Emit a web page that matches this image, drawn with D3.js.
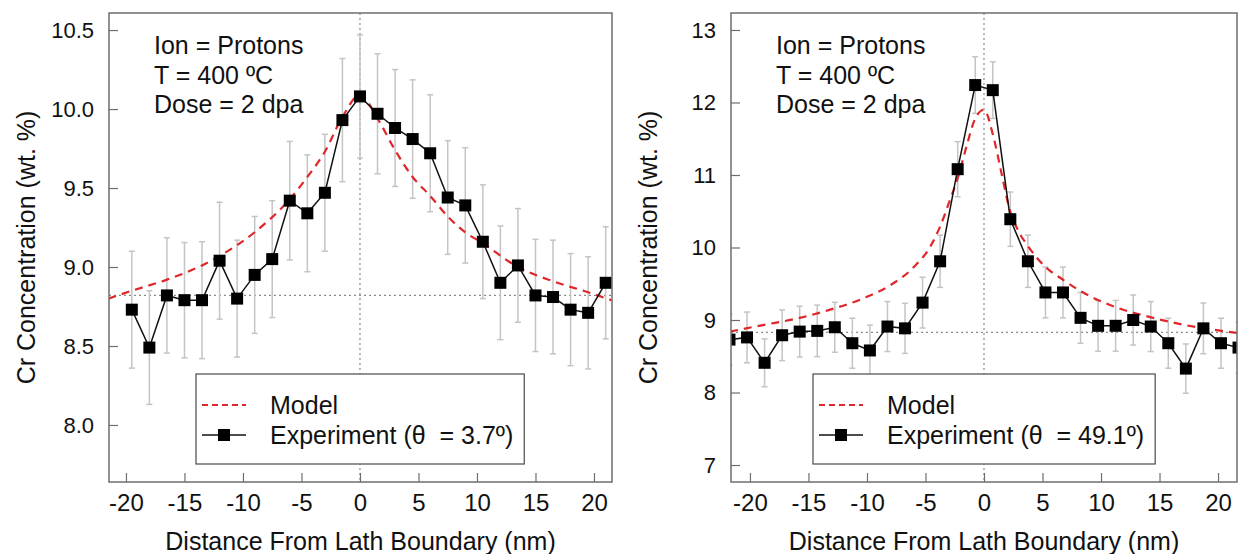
<!DOCTYPE html>
<html>
<head>
<meta charset="utf-8">
<script src="https://cdn.jsdelivr.net/npm/d3@7"></script>
<style>
  html, body { margin: 0; padding: 0; background: #fff; }
  svg { display: block; }
  text { font-family: "Liberation Sans", Arial, sans-serif; fill: #111; white-space: pre; }
</style>
</head>
<body>
<svg id="chart" width="1241" height="554"></svg>
<script>
// ---------------- DATA ----------------
const xTicks = [-20, -15, -10, -5, 0, 5, 10, 15, 20];
const leftYTicks = [8.0, 8.5, 9.0, 9.5, 10.0, 10.5];
const rightYTicks = [7, 8, 9, 10, 11, 12, 13];
const annotationLines = ["Ion = Protons", "T = 400 ºC", "Dose = 2 dpa"];
const xTitle = "Distance From Lath Boundary (nm)";
const yTitle = "Cr Concentration (wt. %)";
const modelLabel = "Model";
const leftExpLabel = "Experiment (θ  = 3.7º)";
const rightExpLabel = "Experiment (θ  = 49.1º)";

// Left panel (θ = 3.7º)
const leftX = [-19.5, -18, -16.5, -15, -13.5, -12, -10.5, -9, -7.5, -6, -4.5, -3, -1.5, 0,
               1.5, 3, 4.5, 6, 7.5, 9, 10.5, 12, 13.5, 15, 16.5, 18, 19.5, 21];
const leftY = [8.73, 8.49, 8.82, 8.79, 8.79, 9.04, 8.80, 8.95, 9.05, 9.42, 9.34, 9.47, 9.93, 10.08,
               9.97, 9.88, 9.81, 9.72, 9.44, 9.39, 9.16, 8.90, 9.01, 8.82, 8.81, 8.73, 8.71, 8.90];
const leftErr = [0.37, 0.36, 0.365, 0.365, 0.37, 0.37, 0.37, 0.37, 0.37, 0.375, 0.37, 0.37, 0.39, 0.39,
                 0.38, 0.37, 0.375, 0.37, 0.36, 0.365, 0.36, 0.36, 0.36, 0.355, 0.36, 0.355, 0.355, 0.355];
const leftModelX = [-21.5, -19.5, -16.5, -13.5, -12, -9, -6, -4.5, -3, -1.5, 0,
                    1.5, 3, 4.5, 6, 7.5, 9, 10.5, 13.5, 16.5, 19.5, 21.5];
const leftModelY = [8.80, 8.85, 8.92, 9.01, 9.07, 9.22, 9.43, 9.57, 9.73, 9.95, 10.09,
                    9.94, 9.74, 9.57, 9.45, 9.32, 9.22, 9.15, 9.00, 8.91, 8.84, 8.79];
const leftBaseline = 8.82;

// Right panel (θ = 49.1º)
const rightX = [-21.75, -20.25, -18.75, -17.25, -15.75, -14.25, -12.75, -11.25, -9.75, -8.25,
                -6.75, -5.25, -3.75, -2.25, -0.75, 0.75, 2.25, 3.75, 5.25, 6.75,
                8.25, 9.75, 11.25, 12.75, 14.25, 15.75, 17.25, 18.75, 20.25, 21.75];
const rightY = [8.73, 8.76, 8.41, 8.79, 8.84, 8.85, 8.90, 8.68, 8.58, 8.91,
                8.885, 9.24, 9.81, 11.08, 12.24, 12.17, 10.39, 9.81, 9.38, 9.38,
                9.03, 8.92, 8.92, 9.00, 8.91, 8.68, 8.33, 8.885, 8.68, 8.62];
const rightErr = [0.35, 0.35, 0.33, 0.35, 0.35, 0.355, 0.345, 0.345, 0.35, 0.345,
                  0.345, 0.35, 0.36, 0.38, 0.39, 0.39, 0.375, 0.36, 0.35, 0.35,
                  0.35, 0.35, 0.35, 0.345, 0.345, 0.345, 0.34, 0.35, 0.345, 0.35];
const rightModelX = [-21.7, -18.9, -16, -13.2, -10.3, -8, -6, -4.6, -3.75, -2.9, -2.2, -1.5, -0.8, 0,
                     0.8, 1.5, 2.2, 2.9, 3.8, 5.2, 6.8, 8.35, 11.2, 14.2, 17.2, 20.3, 21.7];
const rightModelY = [8.84, 8.93, 9.02, 9.14, 9.30, 9.48, 9.73, 10.01, 10.29, 10.66, 10.98, 11.39, 11.76, 11.90,
                     11.53, 11.02, 10.52, 10.24, 10.01, 9.74, 9.55, 9.39, 9.18, 9.04, 8.93, 8.85, 8.82];
const rightBaseline = 8.83;

// ---------------- LAYOUT ----------------
const panels = [
  { id: "L", x0: 109, x1: 612, y0: 13, y1: 482,
    xDom: [-21.45, 21.54], yDom: [7.639, 10.608], yTicks: leftYTicks, yFmt: d => d.toFixed(1),
    X: leftX, Y: leftY, E: leftErr, MX: leftModelX, MY: leftModelY, base: leftBaseline,
    expLabel: leftExpLabel, legendX: 196 },
  { id: "R", x0: 731, x1: 1237, y0: 13, y1: 482,
    xDom: [-21.62, 21.62], yDom: [6.766, 13.234], yTicks: rightYTicks, yFmt: d => String(d),
    X: rightX, Y: rightY, E: rightErr, MX: rightModelX, MY: rightModelY, base: rightBaseline,
    expLabel: rightExpLabel, legendX: 813 }
];

const svg = d3.select("#chart");
const frameColor = "#6e6e6e";
const red = "#e0262a";

panels.forEach(p => {
  const x = d3.scaleLinear().domain(p.xDom).range([p.x0, p.x1]);
  const y = d3.scaleLinear().domain(p.yDom).range([p.y1, p.y0]);
  const g = svg.append("g");

  const clipId = "clip" + p.id;
  svg.append("clipPath").attr("id", clipId)
    .append("rect").attr("x", p.x0).attr("y", p.y0)
    .attr("width", p.x1 - p.x0).attr("height", p.y1 - p.y0);

  // reference dotted lines
  g.append("line")
    .attr("x1", x(0)).attr("x2", x(0)).attr("y1", p.y0).attr("y2", p.y1)
    .attr("stroke", "#8a8a8a").attr("stroke-width", 1.2).attr("stroke-dasharray", "2,3");
  g.append("line")
    .attr("x1", p.x0).attr("x2", p.x1).attr("y1", y(p.base)).attr("y2", y(p.base))
    .attr("stroke", "#8a8a8a").attr("stroke-width", 1.2).attr("stroke-dasharray", "2,3");

  // axes (inward ticks)
  const ax = g.append("g").attr("transform", `translate(0,${p.y1})`)
    .call(d3.axisBottom(x).tickValues(xTicks).tickSize(-9).tickPadding(12).tickFormat(d => String(d)));
  const ay = g.append("g").attr("transform", `translate(${p.x0},0)`)
    .call(d3.axisLeft(y).tickValues(p.yTicks).tickSize(-9).tickPadding(15).tickFormat(p.yFmt));
  [ax, ay].forEach(a => {
    a.select(".domain").remove();
    a.selectAll(".tick line").attr("stroke", frameColor).attr("stroke-width", 1.2);
    a.selectAll(".tick text")
      .attr("font-family", '"Liberation Sans", Arial, sans-serif').attr("fill", "#111");
  });
  ax.selectAll(".tick text").attr("font-size", 24);
  ay.selectAll(".tick text").attr("font-size", 22);

  const plot = g.append("g").attr("clip-path", `url(#${clipId})`);

  // error bars
  const idx = d3.range(p.X.length);
  const eb = plot.append("g").attr("stroke", "#c4c4c4").attr("stroke-width", 1.5);
  idx.forEach(i => {
    const cx = x(p.X[i]), top = y(p.Y[i] + p.E[i]), bot = y(p.Y[i] - p.E[i]);
    eb.append("line").attr("x1", cx).attr("x2", cx).attr("y1", top).attr("y2", bot);
    eb.append("line").attr("x1", cx - 3).attr("x2", cx + 3).attr("y1", top).attr("y2", top);
    eb.append("line").attr("x1", cx - 3).attr("x2", cx + 3).attr("y1", bot).attr("y2", bot);
  });

  // model curve
  const mIdx = d3.range(p.MX.length);
  plot.append("path")
    .datum(mIdx)
    .attr("fill", "none").attr("stroke", red).attr("stroke-width", 2.2)
    .attr("stroke-dasharray", "8,6")
    .attr("d", d3.line().x(i => x(p.MX[i])).y(i => y(p.MY[i])).curve(d3.curveMonotoneX));

  // experiment line + markers
  plot.append("path")
    .datum(idx)
    .attr("fill", "none").attr("stroke", "#111").attr("stroke-width", 1.5)
    .attr("d", d3.line().x(i => x(p.X[i])).y(i => y(p.Y[i])));
  plot.selectAll("rect.m").data(idx).enter().append("rect")
    .attr("x", i => x(p.X[i]) - 6).attr("y", i => y(p.Y[i]) - 6)
    .attr("width", 12).attr("height", 12).attr("fill", "#000");

  // frame
  g.append("rect").attr("x", p.x0).attr("y", p.y0)
    .attr("width", p.x1 - p.x0).attr("height", p.y1 - p.y0)
    .attr("fill", "none").attr("stroke", frameColor).attr("stroke-width", 1.5);

  // annotation
  annotationLines.forEach((t, k) => {
    g.append("text").attr("x", p.x0 + 45).attr("y", 54 + k * 29.5)
      .attr("font-size", 25).text(t);
  });

  // legend
  const lg = g.append("g");
  const box = lg.append("rect").attr("x", p.legendX).attr("y", 374).attr("height", 90)
    .attr("fill", "#fff").attr("stroke", "#4a4a4a").attr("stroke-width", 1.2);
  const lx = p.legendX + 6;
  lg.append("line").attr("x1", lx).attr("x2", lx + 44).attr("y1", 405).attr("y2", 405)
    .attr("stroke", red).attr("stroke-width", 2).attr("stroke-dasharray", "6,4");
  lg.append("line").attr("x1", lx).attr("x2", lx + 44).attr("y1", 435).attr("y2", 435)
    .attr("stroke", "#111").attr("stroke-width", 1.5);
  lg.append("rect").attr("x", lx + 22 - 6).attr("y", 435 - 6).attr("width", 12).attr("height", 12).attr("fill", "#000");
  lg.append("text").attr("x", p.legendX + 74).attr("y", 414).attr("font-size", 25).text(modelLabel);
  const et = lg.append("text").attr("x", p.legendX + 74).attr("y", 444).attr("font-size", 25).text(p.expLabel);
  const bb = et.node().getBBox();
  box.attr("width", bb.x + bb.width + 11 - p.legendX);

  // axis titles
  g.append("text").attr("x", (p.x0 + p.x1) / 2).attr("y", 550)
    .attr("text-anchor", "middle").attr("font-size", 25).text(xTitle);
  g.append("text")
    .attr("transform", `translate(${p.x0 - 74},${(p.y0 + p.y1) / 2}) rotate(-90)`)
    .attr("text-anchor", "middle").attr("font-size", 25).text(yTitle);
});
</script>
</body>
</html>
